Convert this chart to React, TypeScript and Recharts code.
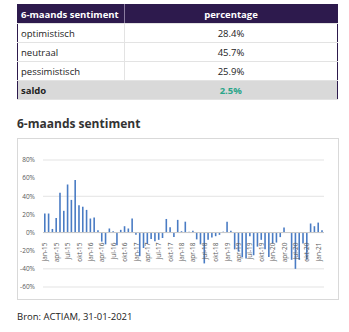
import React from 'react';
import { BarChart, Bar, XAxis, YAxis, CartesianGrid, ReferenceLine } from 'recharts';

const tableRows = ['optimistisch', 'neutraal', 'pessimistisch'];
const tableValues = ['28.4%', '45.7%', '25.9%'];
const saldoValue = '2.5%';

const monthNames = ['jan', 'feb', 'mrt', 'apr', 'mei', 'jun', 'jul', 'aug', 'sep', 'okt', 'nov', 'dec'];
const years = ['15', '16', '17', '18', '19', '20', '21'];

// jan-15 .. feb-21, one value per month (percent)
const sentiment = [
    21, 21, 4, 16, 44, 24, 53, 36, 58, 30, 28.5, 25,
    15.5, 16.5, 2.5, -10, -13, 4.5, 1.5, -14, 3, 7, 4.5, 15.5,
    -2.5, -26, -17, -12.5, -7, -9.5, -8, -6, 15, 6, -5, 14,
    1.5, 12, 1, 2, -7.5, -13, -34, -8, -5.5, -4, -2.5, 1,
    12, 2, -18.5, -21, -27, -28.5, -4, -25, -15.5, -8, -18.5, -27,
    -12, -11, -5, 5.5, 0, -30, -40, -30, -12, -30, 10, 7,
    11, 2.5,
];

const yTicks = [-60, -40, -20, 0, 20, 40, 60, 80];

const months = sentiment.map((_, i) => `${monthNames[i % 12]}-${years[Math.floor(i / 12)]}`);
const data = sentiment.map((v, i) => ({ month: months[i], value: v }));

const FONT = '"Open Sans", sans-serif';
const PURPLE = '#2d1a4d';

const CHART_W = 322;
const CHART_H = 162;
const X_AXIS_H = 14;
const MARGIN = { top: 21, right: 14, bottom: 0, left: 0 };
const PLOT_H = CHART_H - MARGIN.top - MARGIN.bottom - X_AXIS_H;
// distance from bottom of the plot (-60%) to the 0% line
const ZERO_SHIFT = PLOT_H * (0 - yTicks[0]) / (yTicks[yTicks.length - 1] - yTicks[0]);

function MonthTick(props: any) {
    const { x, y, payload } = props;
    const ty = y - ZERO_SHIFT + 2;
    return (
        <text
            x={x}
            y={ty}
            transform={`rotate(-90 ${x} ${ty})`}
            textAnchor="end"
            dominantBaseline="central"
            fontSize={6.5}
            fill="#595959"
            fontFamily={FONT}
        >
            {payload.value}
        </text>
    );
}

const cell: React.CSSProperties = {
    height: 18,
    padding: '0 3px',
    borderBottom: '1px solid #e3e3e3',
    fontSize: 9.5,
    color: '#222',
};

export default function App() {
    return (
        <div style={{ position: 'fixed', left: 0, top: 0, width: 349, height: 332, background: '#fff', fontFamily: FONT }}>
            <table
                style={{
                    position: 'absolute', left: 17, top: 4, width: 321, borderCollapse: 'collapse',
                    border: `1px solid ${PURPLE}`, tableLayout: 'fixed',
                }}
            >
                <colgroup>
                    <col style={{ width: 107 }} />
                    <col />
                </colgroup>
                <tbody>
                    <tr style={{ background: PURPLE }}>
                        <td style={{ ...cell, color: '#fff', fontWeight: 700, borderRight: '1px solid #8a7ca0' }}>6-maands sentiment</td>
                        <td style={{ ...cell, color: '#fff', fontWeight: 700, textAlign: 'center' }}>percentage</td>
                    </tr>
                    {tableRows.map((r, i) => (
                        <tr key={r}>
                            <td style={{ ...cell, borderRight: '1px solid #e3e3e3' }}>{r}</td>
                            <td style={{ ...cell, textAlign: 'center' }}>{tableValues[i]}</td>
                        </tr>
                    ))}
                    <tr style={{ background: '#d9d9d9' }}>
                        <td style={{ ...cell, fontWeight: 700 }}>saldo</td>
                        <td style={{ ...cell, fontWeight: 700, textAlign: 'center', color: '#2aa58a' }}>{saldoValue}</td>
                    </tr>
                </tbody>
            </table>

            <div style={{ position: 'absolute', left: 17, top: 115, fontSize: 12, fontWeight: 700, color: '#333' }}>
                6-maands sentiment
            </div>

            <div style={{ position: 'absolute', left: 17, top: 138, width: CHART_W - 2, height: CHART_H - 2, border: '1px solid #d9d9d9' }}>
                <BarChart width={CHART_W - 2} height={CHART_H} data={data} margin={MARGIN} barCategoryGap={0}>
                    <CartesianGrid vertical={false} stroke="#e3e3e3" />
                    <XAxis
                        dataKey="month"
                        interval={2}
                        axisLine={false}
                        tickLine={false}
                        height={X_AXIS_H}
                        tick={<MonthTick />}
                    />
                    <YAxis
                        domain={[yTicks[0], yTicks[yTicks.length - 1]]}
                        ticks={yTicks}
                        tickFormatter={(v: number) => `${v}%`}
                        axisLine={false}
                        tickLine={false}
                        width={25}
                        tick={{ fontSize: 6.5, fill: '#595959', fontFamily: FONT }}
                    />
                    <ReferenceLine y={0} stroke="#c8c8c8" />
                    <Bar dataKey="value" fill="#4a7cc4" barSize={1.6} isAnimationActive={false} />
                </BarChart>
            </div>

            <div style={{ position: 'absolute', left: 17, top: 310, fontSize: 9.5, color: '#222' }}>
                Bron: ACTIAM, 31-01-2021
            </div>
        </div>
    );
}
